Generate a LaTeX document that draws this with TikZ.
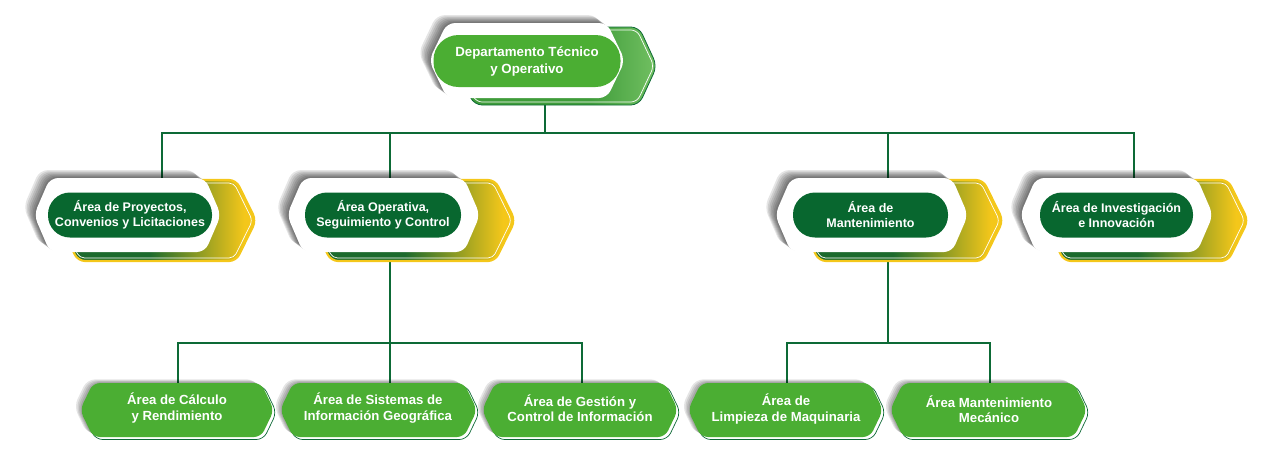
\documentclass[tikz,border=0pt]{standalone}
\usepackage{fontspec}
\setmainfont{Liberation Sans}
\usetikzlibrary{calc}
\definecolor{dg}{HTML}{08672F}
\definecolor{mg}{HTML}{4BAE33}
\definecolor{ln}{HTML}{0D6A36}
\definecolor{yl}{HTML}{F4C71A}
\definecolor{bgd}{HTML}{1C6A2D}
\definecolor{ga}{HTML}{3F9C3A}
\definecolor{gb}{HTML}{72C062}
\pgfdeclarehorizontalshading{gy}{100bp}{color(0bp)=(bgd); color(25bp)=(bgd); color(48bp)=(bgd); color(72bp)=(yl); color(100bp)=(yl)}
\pgfdeclarehorizontalshading{gg}{100bp}{color(0bp)=(ga); color(25bp)=(ga); color(58bp)=(ga); color(75bp)=(gb); color(100bp)=(gb)}
\pgfdeclarelayer{bg}
\pgfsetlayers{bg,main}
% hexagon path: x1 y1 x2 y2 indent
\newcommand\hexat[5]{({(#1+#3)/2},#2) -- ({#3-#5},#2) -- (#3,{(#2+#4)/2}) -- ({#3-#5},#4) -- ({#1+#5},#4) -- (#1,{(#2+#4)/2}) -- ({#1+#5},#2) -- cycle}
\tikzset{
  conn/.style={draw=ln, line width=1.1pt},
  pilltxt/.style={text=white, align=center, inner sep=0pt, font=\bfseries\fontsize{12.5}{15}\selectfont},
  toppill/.style={pilltxt, fill=mg, rounded corners=25pt, minimum width=187pt, minimum height=52pt, font=\bfseries\fontsize{13.3}{17}\selectfont},
  darkpill/.style={pilltxt, fill=dg, rounded corners=22pt, minimum height=45pt},
  leaftxt/.style={pilltxt, font=\bfseries\fontsize{13.2}{15.5}\selectfont},
  whitehex/.style={fill=white, rounded corners=8pt},
  shadowhex/.style={fill=black, opacity=0.1, rounded corners=8pt},
}
% level-2 background: white hex x1,x2 ; yellow back
\newcommand\secbox[2]{%
  \pgfmathsetmacro\ya{#1+24}\pgfmathsetmacro\yb{#2+35}%
  \path[shading=gy, rounded corners=7pt] \hexat{\ya}{180}{\yb}{261}{20};
  \draw[yl, line width=2.2pt, rounded corners=7pt] \hexat{\ya}{180}{\yb}{261}{20};
  \pgfmathsetmacro\yc{\ya+3}\pgfmathsetmacro\yd{\yb-3.5}%
  \draw[white, line width=0.7pt, rounded corners=5pt] \hexat{\yc}{183}{\yd}{258}{18.5};
  \foreach \s in {1.5,3,4.5,6,7.5,9,10.5}{
    \path[shadowhex, shift={(-\s,-0.75*\s)}] \hexat{#1}{178}{#2}{252}{16};
  }
  \path[whitehex] \hexat{#1}{178}{#2}{252}{16};
}
% level-3 leaf hex
\newcommand\leafbox[2]{%
  \foreach \s in {1.5,3,4.5,6}{
    \path[shadowhex, shift={(-\s,-0.6*\s)}] \hexat{#1}{383}{#2}{437}{13};
  }
  \draw[ln, line width=0.7pt, fill=white, rounded corners=7pt, shift={(2.5,2.5)}] \hexat{#1}{383}{#2}{437}{13};
  \path[fill=mg, rounded corners=7pt] \hexat{#1}{383}{#2}{437}{13};
}
\begin{document}
\begin{tikzpicture}[x=1pt, y=-1pt]
\useasboundingbox (0,0) rectangle (1278,456);

% ---------- top node ----------
\path[shading=gg, rounded corners=8pt] \hexat{456}{27}{657}{105}{18};
\draw[ln, line width=0.8pt, rounded corners=8pt] \hexat{456}{27}{657}{105}{18};
\draw[white, line width=0.7pt, rounded corners=6pt] \hexat{459}{30}{654}{102}{17};
\foreach \s in {1.5,3,4.5,6,7.5,9,10.5}{
  \path[shadowhex, shift={(-\s,-0.75*\s)}] \hexat{429}{23}{625}{98}{18};
}
\path[whitehex] \hexat{429}{23}{625}{98}{18};
\node[toppill] (dep) at (527,61) {Departamento Técnico\\y Operativo};
\coordinate (dep-b) at (545,104);

% ---------- level 2 ----------
\secbox{34}{221}
\node[darkpill, minimum width=164pt] (a1) at (130,215) {Área de Proyectos,\\Convenios y Licitaciones};
\secbox{287}{480}
\node[darkpill, minimum width=156pt] (a2) at (383,215) {Área Operativa,\\Seguimiento y Control};
\secbox{775}{968}
\node[darkpill, minimum width=155pt] (a3) at (870.5,215) {Área de\\Mantenimiento};
\secbox{1020}{1213}
\node[darkpill, minimum width=153pt] (a4) at (1116.5,215) {Área de Investigación\\e Innovación};

\coordinate (a1-t) at (162,178);
\coordinate (a2-t) at (390,178);
\coordinate (a3-t) at (888,178);
\coordinate (a4-t) at (1134,178);
\coordinate (a2-b) at (390,262);
\coordinate (a3-b) at (888,262);

% ---------- level 3 ----------
\leafbox{80}{274}
\node[leaftxt] (b1) at (177,408) {Área de Cálculo\\y Rendimiento};
\leafbox{280}{477}
\node[leaftxt] (b2) at (378,408) {Área de Sistemas de\\Información Geográfica};
\leafbox{482}{678}
\node[leaftxt] (b3) at (580,408) {Área de Gestión y\\Control de Información};
\leafbox{688}{883}
\node[leaftxt] (b4) at (786,409) {Área de\\Limpieza de Maquinaria};
\leafbox{890}{1087}
\node[leaftxt] (b5) at (989,409) {Área Mantenimiento\\Mecánico};

\coordinate (b1-t) at (178,383);
\coordinate (b2-t) at (390,383);
\coordinate (b3-t) at (582,383);
\coordinate (b4-t) at (787,383);
\coordinate (b5-t) at (990,383);

% ---------- connectors ----------
\begin{pgfonlayer}{bg}
\coordinate (bus0) at (545,133);
\draw[conn] (dep-b) -- (bus0);
\draw[conn] (a1-t) |- (bus0) -| (a4-t);
\draw[conn] (bus0 -| a2-t) -- (a2-t);
\draw[conn] (bus0 -| a3-t) -- (a3-t);
\coordinate (bus1) at (390,343);
\draw[conn] (a2-b) -- (bus1);
\draw[conn] (b1-t) |- (bus1) -| (b3-t);
\draw[conn] (bus1) -- (b2-t);
\coordinate (bus2) at (888,343);
\draw[conn] (a3-b) -- (bus2);
\draw[conn] (b4-t) |- (bus2) -| (b5-t);
\end{pgfonlayer}
\end{tikzpicture}
\end{document}
